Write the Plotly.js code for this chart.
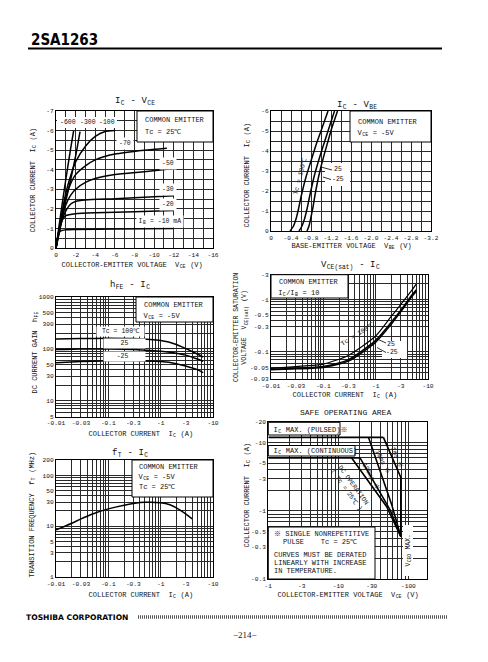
<!DOCTYPE html>
<html><head><meta charset="utf-8">
<script src="https://cdn.plot.ly/plotly-3.0.1.min.js"></script>
<style>html,body{margin:0;padding:0;background:#fff;}#g{width:488px;height:662px;}</style>
</head><body><div id="g"></div>
<script>
// ---------- DATA (magnitudes; PNP device, axes are labelled negative) ----------
// IC - VCE curves (VCE in V, IC in A), one pair per IB
const vce_ib600 = [0,0.5,1,1.5,1.8];
const ic_ib600  = [0,1.8,3.5,5.1,6.0];
const vce_ib300 = [0,0.5,1,1.5,2,2.45];
const ic_ib300  = [0,1.2,2.4,3.5,4.7,5.95];
const vce_ib100 = [0,0.5,1,1.5,2,3,4,5,6];
const ic_ib100  = [0,1.5,2.8,3.7,4.4,5.2,5.7,5.95,6.0];
const vce_ib70  = [0,0.5,1,1.5,2,3,4,6,9,11.3];
const ic_ib70   = [0,1.4,2.6,3.3,3.75,4.2,4.5,4.8,5.0,5.1];
const vce_ib50  = [0,0.5,1,1.5,2,3,4,6,9,12];
const ic_ib50   = [0,1.3,2.2,2.7,3.0,3.35,3.55,3.75,3.9,4.06];
const vce_ib30  = [0,0.5,1,1.5,2,3,6,12];
const ic_ib30   = [0,1.2,1.9,2.25,2.38,2.45,2.52,2.67];
const vce_ib20  = [0,0.3,0.6,1,2,4,8,12];
const ic_ib20   = [0,0.9,1.4,1.65,1.75,1.8,1.85,1.92];
const vce_ib10  = [0,0.2,0.4,1,2,6,12];
const ic_ib10   = [0,0.6,0.85,0.93,0.95,0.97,1.0];

// IC - VBE
const vbe_100 = [0.38,0.45,0.5,0.55,0.6,0.7,0.8,0.9,1.0,1.14];
const ic_vbe100 = [0,0.25,0.6,1.1,1.7,2.7,3.5,4.3,5.0,6.0];
const vbe_25 = [0.56,0.62,0.67,0.72,0.77,0.86,0.95,1.05,1.14,1.27];
const ic_vbe25 = [0,0.25,0.6,1.1,1.7,2.7,3.5,4.3,5.0,6.0];
const vbe_m25 = [0.72,0.76,0.8,0.84,0.88,0.96,1.04,1.13,1.21,1.33];
const ic_vbem25 = [0,0.25,0.7,1.2,1.8,2.8,3.6,4.4,5.1,6.0];

// hFE - IC
const ic_hfe = [0.01,0.03,0.1,0.3,1,2,3,5,6.5];
const hfe_100 = [155,158,160,158,145,122,102,80,70];
const hfe_25  = [97,100,100,98,90,83,76,64,58];
const hfe_m25 = [54,57,59,59,57,52,47,40,35];

// VCE(sat) - IC
const ic_sat = [0.01,0.03,0.1,0.3,1,2,3,5,6];
const vsat_100 = [0.048,0.052,0.058,0.085,0.2,0.48,0.8,1.55,2.0];
const vsat_25  = [0.046,0.048,0.052,0.07,0.165,0.37,0.62,1.25,1.55];
const vsat_m25 = [0.045,0.047,0.05,0.066,0.152,0.34,0.58,1.17,1.45];

// fT - IC
const ic_ft = [0.01,0.02,0.03,0.05,0.1,0.2,0.3,0.5,1,1.5,2,3,4];
const ft    = [8.5,11.5,14,17.5,22,26,28,29.5,29,26.5,23,17.5,14];

// Safe operating area (VCE V, IC A)
const soa_pulsed_v = [1,44];      const soa_pulsed_i = [12,12];
const soa_cont_v   = [1,20.4];    const soa_cont_i   = [6,6];
const soa_1ms_v    = [44,78,78];  const soa_1ms_i    = [12,3.1,0.42];
const soa_10ms_v   = [27,58,78];  const soa_10ms_i   = [12,1.22,0.42];
const soa_100ms_v  = [20.4,55,78];const soa_100ms_i  = [6,1.03,0.42];
const soa_dc_v     = [15.5,49,78];const soa_dc_i     = [6,1.15,0.42];

// Tick labels (magnitudes)
const vceTicks = [0,2,4,6,8,10,12,14,16];
const icTicks1 = [0,1,2,3,4,5,6,7];
const vbeTicks = [0,0.4,0.8,1.2,1.6,2.0,2.4,2.8,3.2];
const icTicks2 = [0,1,2,3,4,5,6];
const icLogTicks = [0.01,0.03,0.1,0.3,1,3,10];
const hfeTicks = [5,10,30,50,100,300,500,1000];
const vsatTicks = [0.03,0.05,0.1,0.3,0.5,1,3];
const ftTicks = [1,3,5,10,30,50,100,200];
const soaVTicks = [1,3,10,30,100];
const soaITicks = [0.1,0.3,0.5,1,3,5,10,20];

// ---------- LAYOUT HELPERS ----------
const W=488,H=662;
const mono = "Liberation Mono, Courier New, monospace";
const GRID = '#2a2a2a';
const P = {
 1:{l:56,r:213,t:111,b:248},
 2:{l:271,r:431,t:111,b:231},
 3:{l:56,r:213,t:297,b:416.5},
 4:{l:271,r:428,t:274.7,b:379},
 5:{l:56,r:213,t:460,b:577.3},
 6:{l:268.3,r:427.3,t:422.3,b:579}
};
const an = n => n===1?'':String(n);

function linGrid(max,step){ const o=[]; for(let k=0;k*step<=max+1e-9;k++) o.push(+(k*step).toFixed(6)); return o; }
function logGrid(lo,hi){ const o=[]; for(let e=-3;e<=4;e++) for(let k=1;k<=9;k++){ const v=+(k*Math.pow(10,e)).toPrecision(3); if(v>=lo*(1-1e-9) && v<=hi*(1+1e-9)) o.push(v);} return o; }
function tickSet(grid, labels, neg, fixed){
  const txt = labels.map(v => v===0 ? '0' : (neg?'-':'') + (fixed ? v.toFixed(fixed) : String(v)));
  return {tickmode:'array', tickvals:labels, ticktext:txt,
    minor:{tickmode:'array', tickvals:grid, showgrid:true, gridcolor:GRID, gridwidth:0.7, ticks:''}};
}

function axis(n, isX, extra){
  const p=P[n];
  const base = {showline:true, mirror:true, linecolor:'#000', linewidth:1.3, showgrid:true,
    gridcolor:GRID, gridwidth:0.8, zeroline:false, ticks:'', fixedrange:true,
    tickfont:{family:mono,size:6.2,color:'#111'},
    anchor:(isX?'y':'x')+an(n),
    domain: isX ? [p.l/W, p.r/W] : [1-p.b/H, 1-p.t/H]};
  return Object.assign(base, extra);
}
function tr(x,y,n,extra){
  return Object.assign({x:x,y:y,xaxis:'x'+an(n),yaxis:'y'+an(n),mode:'lines',hoverinfo:'skip',showlegend:false,
    line:{color:'#000',width:1.5,shape:'spline',smoothing:0.6}}, extra||{});
}
function T(text,x,y,o){
  o=o||{};
  const f = Object.assign({family:mono,size:7,color:'#111'}, o.font||{});
  const a = Object.assign({text:text,x:x/W,y:1-y/H,xref:'paper',yref:'paper',showarrow:false,xanchor:'center',yanchor:'middle'}, o);
  a.font=f; return a;
}
function pbox(X0,Y0,X1,Y1,border){
  return {type:'rect', xref:'paper', yref:'paper', x0:X0/W, x1:X1/W, y0:1-Y1/H, y1:1-Y0/H,
    fillcolor:'#fff', line:{color:border?'#000':'rgba(0,0,0,0)', width:border?1:0}, layer:'above'};
}
function pline(X0,Y0,X1,Y1,w,extra){
  return Object.assign({type:'line',xref:'paper',yref:'paper',x0:X0/W,x1:X1/W,y0:1-Y0/H,y1:1-Y1/H,line:{color:'#000',width:w||1}}, extra||{});
}
const REF = '<span style="font-family:\'Noto Sans CJK JP\',\'DejaVu Sans\',sans-serif">\u203b</span>';

// ---------- TRACES ----------
const soaLine = {color:'#000',width:1.6};
const data = [
  tr(vce_ib600,ic_ib600,1), tr(vce_ib300,ic_ib300,1), tr(vce_ib100,ic_ib100,1),
  tr(vce_ib70,ic_ib70,1), tr(vce_ib50,ic_ib50,1), tr(vce_ib30,ic_ib30,1),
  tr(vce_ib20,ic_ib20,1), tr(vce_ib10,ic_ib10,1),
  tr(vbe_100,ic_vbe100,2), tr(vbe_25,ic_vbe25,2), tr(vbe_m25,ic_vbem25,2),
  tr(ic_hfe,hfe_100,3), tr(ic_hfe,hfe_25,3), tr(ic_hfe,hfe_m25,3),
  tr(ic_sat,vsat_100,4,{line:{color:'#000',width:1.2,shape:'spline',smoothing:0.6}}),
  tr(ic_sat,vsat_25,4), tr(ic_sat,vsat_m25,4),
  tr(ic_ft,ft,5),
  tr(soa_pulsed_v,soa_pulsed_i,6,{line:soaLine}),
  tr(soa_cont_v,soa_cont_i,6,{line:soaLine}),
  tr(soa_1ms_v,soa_1ms_i,6,{line:soaLine}),
  tr(soa_10ms_v,soa_10ms_i,6,{line:soaLine}),
  tr(soa_100ms_v,soa_100ms_i,6,{line:soaLine}),
  tr(soa_dc_v,soa_dc_i,6,{line:soaLine})
];

// ---------- AXES ----------
const layout = {
  width:W, height:H, margin:{l:0,r:0,t:0,b:0}, paper_bgcolor:'#fff', plot_bgcolor:'#fff', showlegend:false,
  xaxis:  axis(1,true, Object.assign({range:[0,16]}, tickSet(linGrid(16,1), vceTicks, true))),
  yaxis:  axis(1,false,Object.assign({range:[0,7]},  tickSet(linGrid(7,0.5), icTicks1, true))),
  xaxis2: axis(2,true, Object.assign({range:[0,3.2]}, tickSet(linGrid(3.2,0.2), vbeTicks, true, 1))),
  yaxis2: axis(2,false,Object.assign({range:[0,6]},  tickSet(linGrid(6,0.5), icTicks2, true))),
  xaxis3: axis(3,true, Object.assign({type:'log',range:[-2,1]}, tickSet(logGrid(0.01,10), icLogTicks, true))),
  yaxis3: axis(3,false,Object.assign({type:'log',range:[Math.log10(5),3]}, tickSet(logGrid(5,1000), hfeTicks, false))),
  xaxis4: axis(4,true, Object.assign({type:'log',range:[-2,1]}, tickSet(logGrid(0.01,10), icLogTicks, true))),
  yaxis4: axis(4,false,Object.assign({type:'log',range:[Math.log10(0.03),Math.log10(3)]}, tickSet(logGrid(0.03,3), vsatTicks, true))),
  xaxis5: axis(5,true, Object.assign({type:'log',range:[-2,1]}, tickSet(logGrid(0.01,10), icLogTicks, true))),
  yaxis5: axis(5,false,Object.assign({type:'log',range:[0,Math.log10(200)]}, tickSet(logGrid(1,200), ftTicks, false))),
  xaxis6: axis(6,true, Object.assign({type:'log',range:[0,2.27]}, tickSet(logGrid(1,186), soaVTicks, true))),
  yaxis6: axis(6,false,Object.assign({type:'log',range:[-1,Math.log10(20)]}, tickSet(logGrid(0.1,20), soaITicks, true))),
  shapes: [], annotations: []
};

const S = layout.shapes, A = layout.annotations;
const big = {font:{size:9}};
const sm = {font:{size:6.5}};

// Header / footer
A.push(T('<b>2SA1263</b>',29,40,{xanchor:'left',font:{family:"Liberation Sans Narrow, DejaVu Sans Condensed, Arial Narrow, sans-serif",size:15,color:'#000'}}));
S.push(pline(28,48.5,442,48.5,2.2));
A.push(T('<b>TOSHIBA CORPORATION</b>',24,617,{xanchor:'left',font:{family:"DejaVu Sans, Liberation Sans, sans-serif",size:7.6,color:'#000'}}));
S.push(pline(138,617,447,617,3.5,{line:{color:'#555',width:3.5,dash:'1px,1px'}}));
A.push(T('\u2212214\u2212',245,635,{font:{family:"Liberation Serif, serif",size:9,color:'#111'}}));

// Chart 1
A.push(T('I<sub>C</sub> - V<sub>CE</sub>',135,102,big));
A.push(T('COLLECTOR-EMITTER VOLTAGE  V<sub>CE</sub> (V)',132,265));
A.push(T('COLLECTOR CURRENT  I<sub>C</sub> (A)',33,180,{textangle:-90}));
S.push(pbox(137,111,213,142,true));
A.push(T('COMMON EMITTER',143,120,{xanchor:'left'}));
A.push(T('Tc = 25\u2103',143,131.5,{xanchor:'left'}));
S.push(pbox(57,117,117,128,false));
A.push(T('-600',68,122.5,sm));
A.push(T('-300',88,122.5,sm));
A.push(T('-100',107,122.5,sm));
A.push(T('-70',125,143,{bgcolor:'#fff',borderpad:2,font:{size:6.5}}));
A.push(T('-50',168,164,{bgcolor:'#fff',borderpad:2,font:{size:6.5}}));
A.push(T('-30',168,190,{bgcolor:'#fff',borderpad:2,font:{size:6.5}}));
A.push(T('-20',168,205,{bgcolor:'#fff',borderpad:2,font:{size:6.5}}));
A.push(T('I<sub>B</sub> = -10 mA',160,221.5,{bgcolor:'#fff',borderpad:2,font:{size:6.5}}));

// Chart 2
A.push(T('I<sub>C</sub> - V<sub>BE</sub>',357,105,big));
A.push(T('BASE-EMITTER VOLTAGE  V<sub>BE</sub> (V)',351,246));
A.push(T('COLLECTOR CURRENT  I<sub>C</sub> (A)',247,175,{textangle:-90}));
S.push(pbox(350,111,431,142,true));
A.push(T('COMMON EMITTER',356,121.5,{xanchor:'left'}));
A.push(T('V<sub>CE</sub> = -5V',356,132.5,{xanchor:'left'}));
S.push(pbox(325,163,350,186,false));
A.push(T('Tc = 100\u2103',300,176,{textangle:-76,font:{size:6.5}}));
A.push(T('25',338,170,sm));
A.push(T('-25',338,180,sm));
S.push(pline(332,170,321,167,0.8));
S.push(pline(331,179.5,323,177,0.8));

// Chart 3
A.push(T('h<sub>FE</sub> - I<sub>C</sub>',130,285,big));
A.push(T('COLLECTOR CURRENT  I<sub>C</sub> (A)',141,434));
A.push(T('DC CURRENT GAIN  h<sub>FE</sub>',35,352,{textangle:-90}));
S.push(pbox(136,297,213,322,true));
A.push(T('COMMON EMITTER',142,305,{xanchor:'left'}));
A.push(T('V<sub>CE</sub> = -5V',142,316,{xanchor:'left'}));
A.push(T(' Tc = 100\u2103 ',120,331.5,{bgcolor:'#fff',borderpad:1,font:{size:6.5}}));
A.push(T('    25    ',124,343,{bgcolor:'#fff',borderpad:1,font:{size:6.5}}));
A.push(T('   -25    ',124,356,{bgcolor:'#fff',borderpad:1,font:{size:6.5}}));

// Chart 4
A.push(T('V<sub>CE(sat)</sub> - I<sub>C</sub>',350,265,big));
A.push(T('COLLECTOR CURRENT  I<sub>C</sub> (A)',345,395));
A.push(T('COLLECTOR-EMITTER SATURATION<br>VOLTAGE  V<sub>CE(sat)</sub> (V)',241,328,{textangle:-90,font:{size:6.5}}));
S.push(pbox(271,274.7,348,298,true));
A.push(T('COMMON EMITTER',277,282,{xanchor:'left'}));
A.push(T('I<sub>C</sub>/I<sub>B</sub> = 10',277,293,{xanchor:'left'}));
S.push(pbox(382,341,407,358,false));
A.push(T('Tc = 100\u2103',358,335,{textangle:-32,font:{size:6.5}}));
A.push(T('25',391,344,sm));
A.push(T('-25',392,353,sm));
S.push(pline(386,343,376,338.5,0.8));
S.push(pline(386,352.5,377,347.5,0.8));

// Chart 5
A.push(T('f<sub>T</sub> - I<sub>C</sub>',130,453,big));
A.push(T('COLLECTOR CURRENT  I<sub>C</sub> (A)',141,595));
A.push(T('TRANSITION FREQUENCY  f<sub>T</sub> (MHz)',32,515,{textangle:-90}));
S.push(pbox(132,460,213,497,true));
A.push(T('COMMON EMITTER',137,467,{xanchor:'left'}));
A.push(T('V<sub>CE</sub> = -5V',137,477,{xanchor:'left'}));
A.push(T('Tc = 25\u2103',137,487,{xanchor:'left'}));

// Chart 6
A.push(T('SAFE OPERATING AREA',345,412,{font:{size:8}}));
A.push(T('COLLECTOR-EMITTER VOLTAGE  V<sub>CE</sub> (V)',348,595));
A.push(T('COLLECTOR CURRENT  I<sub>C</sub> (A)',247,495,{textangle:-90}));
S.push(pbox(268.3,422.3,340,435,true));
A.push(T('I<sub>C</sub> MAX. (PULSED)'+REF,272,429,{xanchor:'left'}));
S.push(pbox(268.3,445.5,355,456,true));
A.push(T('I<sub>C</sub> MAX. (CONTINUOUS)',272,450.7,{xanchor:'left'}));
S.push(pbox(268.3,527,375,579,true));
A.push(T(REF+' SINGLE NONREPETITIVE',272,532.7,{xanchor:'left'}));
A.push(T('PULSE    Tc = 25\u2103',281,542.3,{xanchor:'left'}));
A.push(T('CURVES MUST BE DERATED',272,555,{xanchor:'left'}));
A.push(T('LINEARLY WITH INCREASE',272,562.7,{xanchor:'left'}));
A.push(T('IN TEMPERATURE.',272,571,{xanchor:'left'}));
S.push(pbox(403,525,413,576,false));
A.push(T('V<sub>CEO</sub> MAX.',408,550,{textangle:-90,font:{size:6.5}}));
A.push(T('DC OPERATION<br>( Tc = 25\u2103 )',350,487,{textangle:54,font:{size:6.5}}));
A.push(T('100ms '+REF,372,476,{textangle:62,font:{size:6.5}}));
A.push(T('10ms '+REF,383.5,461,{textangle:63,font:{size:6.5}}));
A.push(T('1ms '+REF,398,457,{textangle:67,font:{size:6.5}}));

Plotly.newPlot('g', data, layout, {displayModeBar:false}).then(function(gd){
  // Plotly inserts zero-width baseline-reset spans around subscripts; give them a hair-space so they have a size
  gd.querySelectorAll('text, tspan').forEach(function(t){
    if (t.childElementCount === 0 && /^[\u200b\s]*$/.test(t.textContent)) t.textContent = '\u200a';
  });
  const walker = document.createTreeWalker(gd, NodeFilter.SHOW_TEXT);
  let nd; while ((nd = walker.nextNode())) { if (nd.nodeValue.indexOf('\u200b') >= 0) nd.nodeValue = nd.nodeValue.replace(/\u200b/g, '\u200a'); }
});
</script></body></html>
